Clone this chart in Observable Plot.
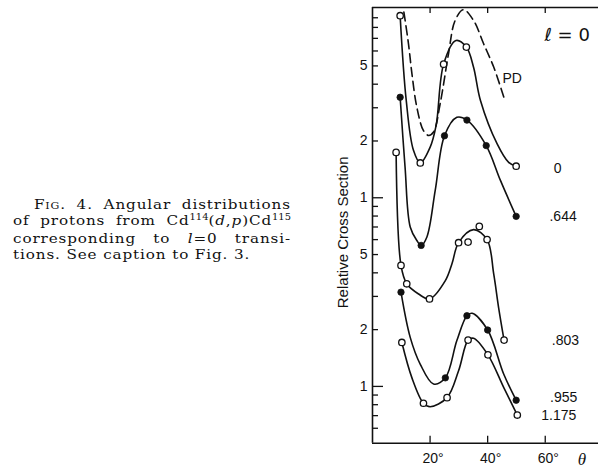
<!DOCTYPE html>
<html>
<head>
<meta charset="utf-8">
<script src="https://cdn.jsdelivr.net/npm/d3@7"></script>
<script src="https://cdn.jsdelivr.net/npm/@observablehq/plot@0.6"></script>
<style>
  body { margin: 0; background: #fff; }
  #wrap { position: relative; width: 598px; height: 469px; overflow: hidden; }
  #chart { position: absolute; left: 0; top: 0; }
  #caption { position: absolute; left: 13px; top: 195.7px; width: 252.7px;
    transform: scaleX(1.1); transform-origin: 0 0;
    font-family: "DejaVu Serif", "Liberation Serif", serif; font-size: 13.8px; line-height: 16.1px;
    letter-spacing: 0.8px; color: #111; }
  #caption .j { text-align: justify; text-align-last: justify; white-space: nowrap; }
  #caption sup { font-size: 9px; letter-spacing: 0; vertical-align: 0; position: relative; top: -5px; }
</style>
</head>
<body>
<div id="wrap">
  <div id="chart"></div>
  <div id="caption">
    <div class="j" style="padding-left:19px">F<span style="font-variant:small-caps">ig</span>. 4. Angular distributions</div>
    <div class="j">of protons from Cd<sup>114</sup>(<i>d</i>,<i>p</i>)Cd<sup>115</sup></div>
    <div class="j">corresponding to <i>l</i>=0 transi-</div>
    <div>tions. See caption to Fig. 3.</div>
  </div>
</div>
<script>
// ---- axes ----
const thetaTicks = [20, 40, 60];
const yLabelTicks = [1, 2, 5, 10, 20, 50];
const yMinorTicks = [0.6, 0.7, 0.8, 0.9, 2, 3, 4, 5, 6, 7, 8, 9, 20, 30, 40, 50, 60, 70, 80, 90];
const yMajorTicks = [1, 10];

// ---- series "0" (open circles) ----
const pts0Theta = [9.6, 16.6, 24.7, 32.6, 49.9];
const pts0Value = [92.3, 15.3, 51.1, 62.9, 14.7];
const fit0Theta = [9.6, 11.7, 14.2, 16.6, 20.0, 22.1, 24.7, 29.0, 32.6, 35.1, 37.5, 43.3, 47.3, 49.9];
const fit0Value = [92.3, 33, 17.9, 15.3, 18.5, 24.2, 51.1, 68.2, 62.9, 49.2, 32.8, 19.3, 15.4, 14.7];

// ---- series ".644" (filled circles) ----
const pts644Theta = [9.6, 16.9, 25.0, 32.8, 39.5, 49.9];
const pts644Value = [34.1, 5.59, 21.3, 25.8, 18.9, 7.97];
const fit644Theta = [9.6, 11.3, 13.1, 15.4, 16.9, 18.9, 21.8, 25.0, 29.3, 32.8, 39.5, 44.4, 49.9];
const fit644Value = [34.1, 14.6, 7.0, 5.94, 5.59, 6.2, 10.97, 21.3, 26.7, 25.8, 18.9, 12.4, 7.97];

// ---- series ".803" (open circles) ----
const pts803Theta = [8.2, 9.9, 11.9, 19.8, 29.9, 33.2, 37.1, 39.8, 45.7];
const pts803Value = [17.4, 4.38, 3.5, 2.91, 5.78, 5.82, 7.05, 6.0, 1.76];
const fit803Theta = [8.2, 9.9, 11.9, 16.0, 19.8, 25.3, 27.6, 29.9, 35.1, 39.8, 42.1, 43.8, 45.7];
const fit803Value = [17.4, 4.38, 3.5, 3.09, 2.91, 3.64, 4.47, 5.78, 6.78, 6.0, 3.95, 2.62, 1.76];

// ---- series ".955" (filled circles) ----
const pts955Theta = [9.9, 25.3, 32.8, 40.0, 49.9];
const pts955Value = [3.16, 1.11, 2.37, 1.99, 0.845];
const fit955Theta = [9.9, 13.1, 16.6, 21.2, 25.3, 29.3, 32.8, 34.6, 40.0, 45.6, 49.9];
const fit955Value = [3.16, 1.82, 1.31, 1.03, 1.11, 1.75, 2.37, 2.44, 1.99, 1.16, 0.845];

// ---- series "1.175" (open circles) ----
const pts1175Theta = [10.2, 17.7, 25.9, 33.2, 40.1, 50.3];
const pts1175Value = [1.71, 0.814, 0.872, 1.76, 1.47, 0.705];
const fit1175Theta = [10.2, 13.7, 17.7, 20.0, 25.9, 29.9, 33.2, 35.1, 40.1, 45.6, 50.3];
const fit1175Value = [1.71, 1.11, 0.814, 0.78, 0.872, 1.21, 1.76, 1.80, 1.47, 0.985, 0.705];

// ---- dashed theoretical curve "PD" ----
const pdTheta = [10.9, 12.5, 13.7, 15.4, 17.7, 19.5, 21.2, 23.5, 26.4, 28.7, 31.6, 35.1, 38.6, 42.1, 45.6];
const pdValue = [96.4, 65.5, 45.4, 30.2, 22.7, 21.4, 22.3, 31.5, 58, 87.1, 99.3, 87.1, 65.5, 49.3, 34.2];

// ---- labels ----
const labelText = ["PD", "0", ".644", ".803", ".955", "1.175"];
const labelTheta = [48.5, 64.3, 66.2, 67.0, 66.4, 64.7];
const labelValue = [42.8, 14.3, 7.96, 1.75, 0.876, 0.70];
const lText = ["ℓ = 0"];
const lTheta = [67.6];
const lValue = [72.6];

const rows = (t, v) => t.map((d, i) => ({theta: d, value: v[i]}));
const openSets = [rows(pts0Theta, pts0Value), rows(pts803Theta, pts803Value), rows(pts1175Theta, pts1175Value)].flat();
const filledSets = [rows(pts644Theta, pts644Value), rows(pts955Theta, pts955Value)].flat();
const fits = [
  rows(fit0Theta, fit0Value), rows(fit644Theta, fit644Value), rows(fit803Theta, fit803Value),
  rows(fit955Theta, fit955Value), rows(fit1175Theta, fit1175Value)
];
const labels = labelText.map((t, i) => ({text: t, theta: labelTheta[i], value: labelValue[i]}));
const lLabel = lText.map((t, i) => ({text: t, theta: lTheta[i], value: lValue[i]}));

const xDomain = [0, 78.5];
const yDomain = [0.5, 102];
const ink = "#111";

const chart = Plot.plot({
  width: 598,
  height: 469,
  marginLeft: 372,
  marginRight: 0,
  marginTop: 7,
  marginBottom: 26.3,
  x: {domain: xDomain},
  y: {type: "log", domain: yDomain},
  style: {fontFamily: "'Liberation Sans', Arial, sans-serif", color: ink, background: "transparent"},
  marks: [
    // frame (open on the right)
    Plot.ruleY([yDomain[1]], {stroke: ink, strokeWidth: 1.6}),
    Plot.ruleY([yDomain[0]], {stroke: ink, strokeWidth: 1.6}),
    Plot.ruleX([xDomain[0]], {stroke: ink, strokeWidth: 1.6}),
    // inward ticks
    Plot.tickY(yMinorTicks, {y: d => d, insetRight: 220, stroke: ink, strokeWidth: 1.3}),
    Plot.tickY(yMajorTicks, {y: d => d, insetRight: 215, stroke: ink, strokeWidth: 1.3}),
    Plot.tickX(thetaTicks, {x: d => d, insetTop: 428.7, stroke: ink, strokeWidth: 1.3}),
    Plot.tickX(thetaTicks, {x: d => d, insetBottom: 429.7, stroke: ink, strokeWidth: 1.3}),
    // tick labels
    Plot.axisY(yLabelTicks, {tickSize: 0, tickPadding: 5, tickFormat: d => String(d)[0], fontSize: 14, label: null}),
    Plot.axisX(thetaTicks, {tickSize: 0, tickPadding: 10, tickFormat: d => d + "°", fontSize: 14, dx: 3, label: null}),
    Plot.text(["Relative Cross Section"], {frameAnchor: "left", textAnchor: "middle", lineAnchor: "middle", rotate: -90, dx: -29.5, dy: 7, fontSize: 15, fill: ink}),
    Plot.text(["θ"], {frameAnchor: "bottom-right", textAnchor: "middle", lineAnchor: "middle", dx: -16.5, dy: 16.5, fontSize: 17, fontStyle: "italic", fontFamily: "'Liberation Serif', serif", fill: ink}),
    // curves
    ...fits.map(f => Plot.line(f, {x: "theta", y: "value", curve: "catmull-rom", stroke: ink, strokeWidth: 1.6})),
    Plot.line(rows(pdTheta, pdValue), {x: "theta", y: "value", curve: "catmull-rom", stroke: ink, strokeWidth: 1.6, strokeDasharray: "9,5"}),
    // points
    Plot.dot(openSets, {x: "theta", y: "value", r: 3.2, fill: "white", stroke: ink, strokeWidth: 1.3}),
    Plot.dot(filledSets, {x: "theta", y: "value", r: 3.2, fill: ink, stroke: ink, strokeWidth: 0.8}),
    // series labels
    Plot.text(labels, {x: "theta", y: "value", text: "text", fontSize: 14, fill: ink, style: "letter-spacing:1px"}),
    Plot.text(lLabel, {x: "theta", y: "value", text: "text", fontSize: 18, fontFamily: "'DejaVu Sans', sans-serif", fill: ink})
  ]
});
document.getElementById("chart").appendChild(chart);
</script>
</body>
</html>
